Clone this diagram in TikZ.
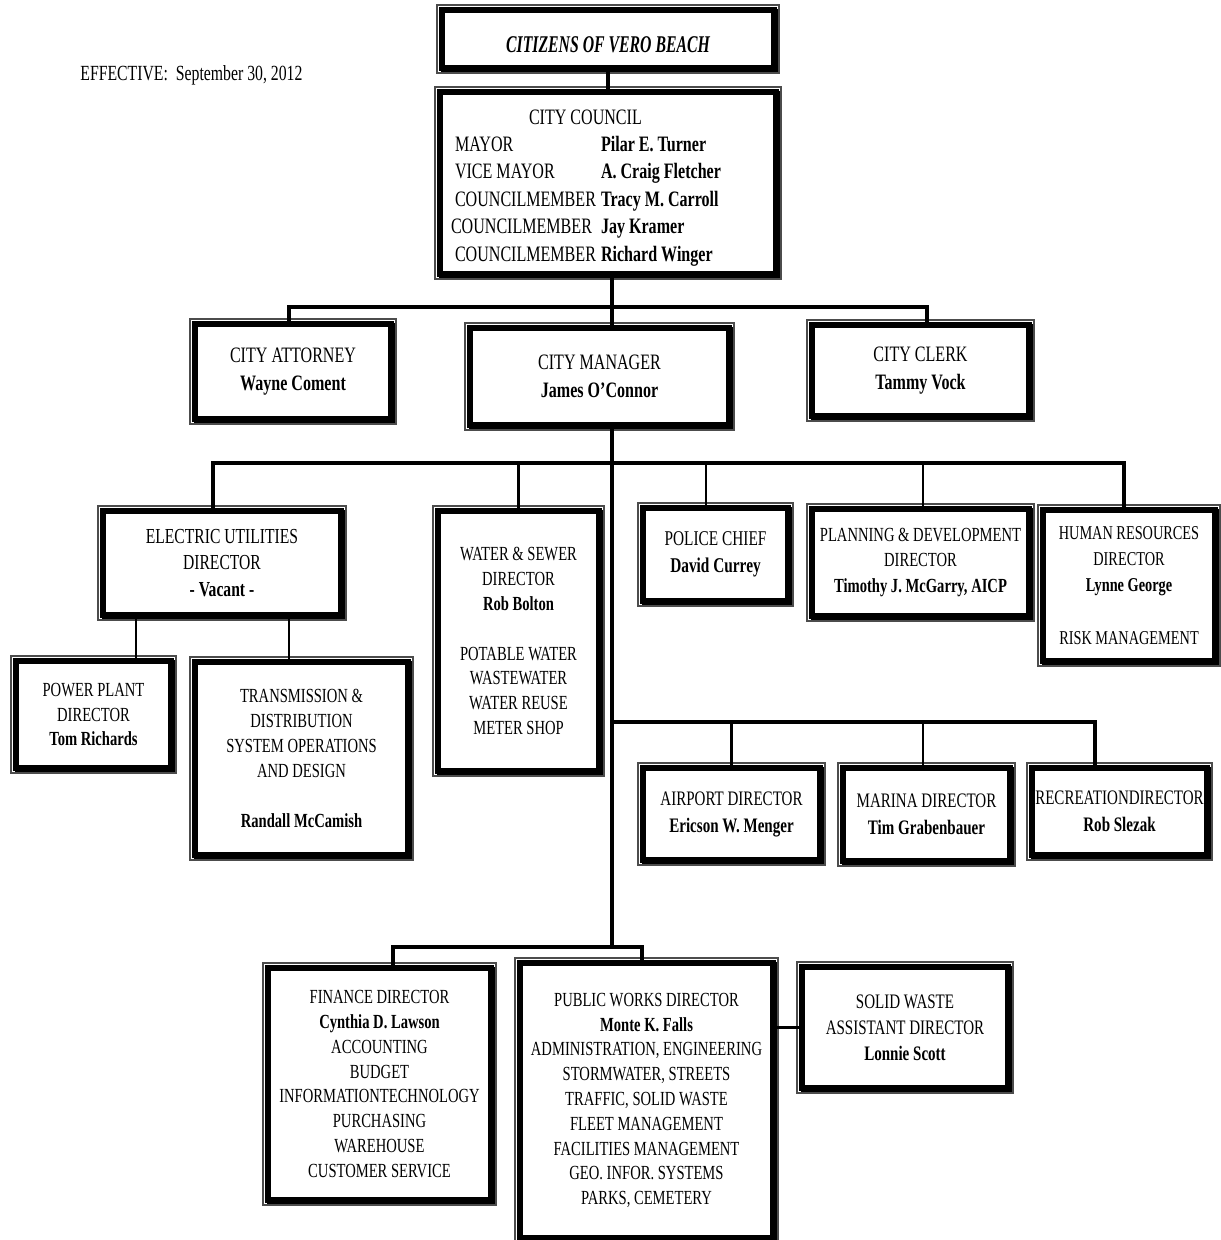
\documentclass[tikz,border=0pt]{standalone}
\usepackage{graphicx}
\usepackage{fontspec}
\setmainfont{Liberation Serif}[FakeStretch=0.73]

\begin{document}
\begin{tikzpicture}
[x=0.5pt, y=-0.5pt,
    font=\fontsize{10}{12.4}\selectfont,
    orgbox/.style={draw=black, line width=2.6pt, fill=white, outer sep=0pt,
    inner sep=1pt, align=center,
    preaction={draw=black!70, line width=5.6pt},
    preaction={draw=white, line width=4.4pt},
    preaction={draw=black, line width=2.6pt, transform canvas={shift={(0.6pt,-0.6pt)}}}},
    upper/.style={font=\fontsize{11}{14}\selectfont},
    bus/.style={draw=black, line width=1.8pt},
    link/.style={draw=black, line width=1.2pt},
    ]

    \fill[white] (0,0) rectangle (1220,1240);
    \useasboundingbox (0,0) rectangle (1220,1240);

    \node[anchor=west, inner sep=0pt, font=\fontsize{10.8}{13}\selectfont] (effective) at (80,75) {EFFECTIVE:\ \ September 30, 2012};

    \node[orgbox, minimum width=166pt, minimum height=29pt, text height=16.4pt, text depth=3pt, font=\fontsize{12}{14}\selectfont\bfseries\itshape] (citizens) at (608,39) {\scalebox{0.9}[1]{CITIZENS OF VERO BEACH}};

    \node[orgbox, minimum width=168pt, minimum height=91pt, inner xsep=7.5pt, text width=153pt, align=flush left, font=\fontsize{11}{13.7}\selectfont] (council) at (608,183) {%
    \rule{0pt}{12pt}\hspace*{37pt}CITY COUNCIL\\
    \makebox[73pt][l]{MAYOR}\textbf{Pilar E. Turner}\\
    \makebox[73pt][l]{VICE MAYOR}\textbf{A. Craig Fletcher}\\
    \makebox[73pt][l]{COUNCILMEMBER}\textbf{Tracy M. Carroll}\\
    \hspace*{-2pt}\makebox[75pt][l]{COUNCILMEMBER}\textbf{Jay Kramer}\\
    \makebox[73pt][l]{COUNCILMEMBER}\textbf{Richard Winger}};

    \node[orgbox, upper, minimum width=98pt, minimum height=47.5pt] (attorney) at (293,371.5) {CITY ATTORNEY\\ \textbf{Wayne Coment}};
    \node[orgbox, upper, minimum width=129.5pt, minimum height=48.5pt] (manager) at (599.5,376.5) {CITY MANAGER\\ \textbf{James O'Connor}};
    \node[orgbox, upper, minimum width=108.5pt, minimum height=45.5pt] (clerk) at (920.5,370.5) {CITY CLERK\\ \textbf{Tammy Vock}};

    \node[orgbox, minimum width=119pt, minimum height=52pt, font=\fontsize{10.7}{13.3}\selectfont] (electric) at (222,563) {ELECTRIC UTILITIES\\ DIRECTOR\\ \textbf{- Vacant -}};
    \node[orgbox, minimum width=80.5pt, minimum height=130pt] (water) at (518.5,641) {WATER \& SEWER\\ DIRECTOR\\ \textbf{Rob Bolton}\\[12.5pt] POTABLE WATER\\ WASTEWATER\\ WATER REUSE\\ METER SHOP};
    \node[orgbox, minimum width=72.5pt, minimum height=46.5pt, font=\fontsize{10.5}{13.5}\selectfont] (police) at (715.5,554.5) {POLICE CHIEF\\ \textbf{David Currey}};
    \node[orgbox, minimum width=108.5pt, minimum height=53.5pt, font=\fontsize{10}{12.8}\selectfont] (planning) at (920.5,562.5) {PLANNING \& DEVELOPMENT\\ DIRECTOR\\ \textbf{Timothy J. McGarry, AICP}};
    \node[orgbox, minimum width=86pt, minimum height=75.5pt, font=\fontsize{9.8}{13}\selectfont] (hr) at (1129,585.5) {HUMAN RESOURCES\\ DIRECTOR\\ \textbf{Lynne George}\\[13.5pt] RISK MANAGEMENT};

    \node[orgbox, minimum width=77.5pt, minimum height=53.5pt] (power) at (93.5,714.5) {POWER PLANT\\ DIRECTOR\\ \textbf{Tom Richards}};
    \node[orgbox, minimum width=106.5pt, minimum height=96.5pt] (transmission) at (301.5,758.5) {TRANSMISSION \&\\ DISTRIBUTION\\ SYSTEM OPERATIONS\\ AND DESIGN\\[12.5pt] \textbf{Randall McCamish}};

    \node[orgbox, minimum width=88.5pt, minimum height=46pt, font=\fontsize{10.3}{13.5}\selectfont] (airport) at (731.5,814) {AIRPORT DIRECTOR\\ \textbf{Ericson W. Menger}};
    \node[orgbox, minimum width=83.5pt, minimum height=46.5pt, font=\fontsize{10.3}{13.5}\selectfont] (marina) at (926.5,814.5) {MARINA DIRECTOR\\ \textbf{Tim Grabenbauer}};
    \node[orgbox, minimum width=87.5pt, minimum height=43.5pt, font=\fontsize{10.3}{13.5}\selectfont] (recreation) at (1119.5,811.5) {RECREATIONDIRECTOR\\ \textbf{Rob Slezak}};

    \node[orgbox, minimum width=111.5pt, minimum height=116pt] (finance) at (379.5,1084) {FINANCE DIRECTOR\\ \textbf{Cynthia D. Lawson}\\ ACCOUNTING\\ BUDGET\\ INFORMATIONTECHNOLOGY\\ PURCHASING\\ WAREHOUSE\\ CUSTOMER SERVICE};
    \node[orgbox, minimum width=126.5pt, minimum height=137.5pt] (publicworks) at (646.5,1100.5) {PUBLIC WORKS DIRECTOR\\ \textbf{Monte K. Falls}\\ ADMINISTRATION, ENGINEERING\\ STORMWATER, STREETS\\ TRAFFIC, SOLID WASTE\\ FLEET MANAGEMENT\\ FACILITIES MANAGEMENT\\ GEO. INFOR. SYSTEMS\\ PARKS, CEMETERY};
    \node[orgbox, minimum width=103pt, minimum height=60.5pt, font=\fontsize{10.3}{13}\selectfont] (solidwaste) at (905,1027.5) {SOLID WASTE\\ ASSISTANT DIRECTOR\\ \textbf{Lonnie Scott}};

    \coordinate (trunk) at (612,0);
    \coordinate (topbus) at (612,307);
    \coordinate (mgrbus) at (612,463);
    \coordinate (subbus) at (612,722);
    \coordinate (finbus) at (612,947);
    \coordinate (clerkx) at (927,0);
    \coordinate (eux) at (213,0);
    \coordinate (policex) at (706,0);
    \coordinate (planx) at (923,0);
    \coordinate (hrx) at (1124,0);
    \coordinate (marinax) at (923,0);
    \coordinate (recx) at (1095,0);
    \coordinate (ppx) at (136,0);
    \coordinate (tdx) at (289,0);
    \coordinate (finx) at (393,0);
    \coordinate (pwx) at (642,0);

    \draw[bus] (citizens.south) -- (council.north);
    \draw[bus] (council.south -| trunk) -- (manager.north -| trunk);
    \draw[bus] (attorney.north -| tdx) |- (topbus) -| (clerk.north -| clerkx);

    \draw[bus] (manager.south -| trunk) -- (finbus);
    \draw[bus] (electric.north -| eux) |- (mgrbus) -| (hr.north -| hrx);
    \draw[link] (water.north) -- (water.north |- mgrbus);
    \draw[link] (police.north -| policex) -- (mgrbus -| policex);
    \draw[link] (planning.north -| planx) -- (mgrbus -| planx);

    \draw[link] (electric.south -| ppx) -- (power.north -| ppx);
    \draw[link] (electric.south -| tdx) -- (transmission.north -| tdx);

    \draw[bus] (subbus) -| (recreation.north -| recx);
    \draw[link] (airport.north) -- (airport.north |- subbus);
    \draw[link] (marina.north -| marinax) -- (subbus -| marinax);

    \draw[bus] (finance.north -| finx) |- (finbus) -| (publicworks.north -| pwx);
    \draw[bus] (publicworks.east |- solidwaste.west) -- (solidwaste.west);

\end{tikzpicture}
\end{document}
